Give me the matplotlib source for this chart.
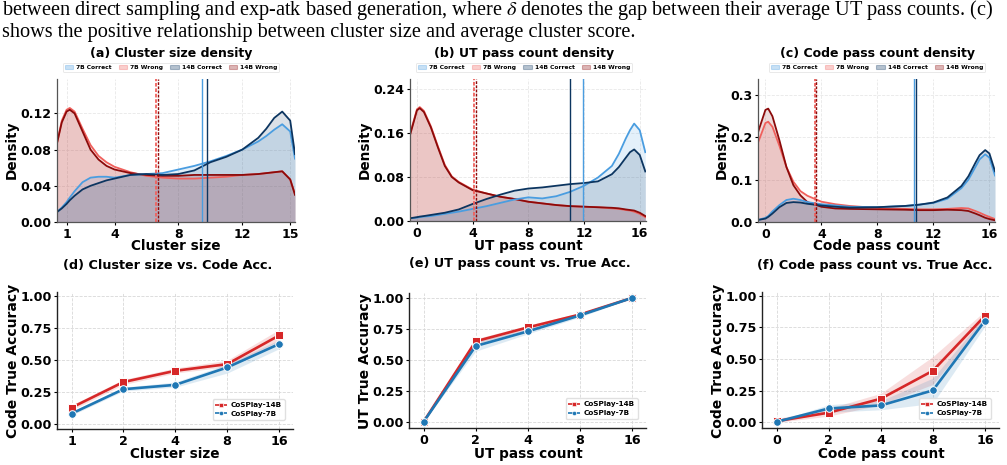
import matplotlib.pyplot as plt
from matplotlib.patches import Patch
from matplotlib.lines import Line2D

plt.rcParams['font.family'] = ['DejaVu Sans']
plt.rcParams['mathtext.fontset'] = 'stix'

W, H = 1007, 465

# ---------------- density panels ----------------
a_x = [0.4, 0.7, 1.0, 1.2, 1.5, 2.0, 2.5, 3.0, 3.5, 4.0, 5.0, 6.0, 7.0, 8.0, 9.0, 10.0,
       11.0, 12.0, 13.0, 13.5, 14.0, 14.5, 15.0, 15.3]
a_7b_wrong = [0.087, 0.112, 0.124, 0.126, 0.122, 0.103, 0.085, 0.073, 0.066, 0.061, 0.055, 0.051,
              0.049, 0.048, 0.048, 0.049, 0.050, 0.052, 0.053, 0.054, 0.055, 0.056, 0.047, 0.031]
a_14b_wrong = [0.087, 0.110, 0.122, 0.124, 0.120, 0.100, 0.080, 0.069, 0.062, 0.058, 0.054, 0.052,
               0.051, 0.051, 0.052, 0.052, 0.052, 0.052, 0.053, 0.054, 0.055, 0.056, 0.047, 0.030]
a_7b_correct = [0.011, 0.016, 0.022, 0.027, 0.034, 0.044, 0.049, 0.050, 0.050, 0.049, 0.052, 0.053,
                0.054, 0.058, 0.062, 0.067, 0.073, 0.080, 0.089, 0.095, 0.102, 0.108, 0.100, 0.070]
a_14b_correct = [0.011, 0.015, 0.020, 0.024, 0.029, 0.036, 0.040, 0.043, 0.046, 0.048, 0.052, 0.053,
                 0.052, 0.053, 0.057, 0.066, 0.072, 0.080, 0.093, 0.103, 0.115, 0.122, 0.112, 0.075]
a_means = [6.62, 6.72, 9.45, 9.76]  # 7B wrong, 14B wrong, 7B correct, 14B correct

b_x = [-0.5, 0.0, 0.2, 0.5, 1.0, 1.5, 2.0, 2.5, 3.0, 4.0, 5.0, 6.0, 7.0, 8.0, 9.0, 10.0,
       11.0, 12.0, 13.0, 14.0, 14.5, 15.0, 15.3, 15.6, 16.0, 16.4]
b_7b_wrong = [0.158, 0.203, 0.207, 0.200, 0.172, 0.136, 0.102, 0.081, 0.071, 0.057, 0.050, 0.044, 0.040,
              0.035, 0.032, 0.029, 0.027, 0.026, 0.025, 0.023, 0.022, 0.020, 0.019, 0.017, 0.013, 0.007]
b_14b_wrong = [0.156, 0.201, 0.205, 0.198, 0.170, 0.134, 0.100, 0.080, 0.070, 0.056, 0.050, 0.044, 0.040,
               0.035, 0.032, 0.029, 0.027, 0.026, 0.025, 0.024, 0.023, 0.021, 0.020, 0.019, 0.015, 0.009]
b_7b_correct = [0.005, 0.006, 0.007, 0.008, 0.009, 0.011, 0.013, 0.015, 0.017, 0.022, 0.027, 0.033, 0.039,
                0.043, 0.041, 0.045, 0.053, 0.064, 0.079, 0.100, 0.122, 0.150, 0.165, 0.177, 0.165, 0.125]
b_14b_correct = [0.005, 0.007, 0.008, 0.009, 0.011, 0.013, 0.015, 0.018, 0.021, 0.031, 0.040, 0.048, 0.055,
                 0.059, 0.061, 0.064, 0.067, 0.069, 0.072, 0.085, 0.098, 0.115, 0.125, 0.130, 0.120, 0.090]
b_means = [4.12, 4.25, 11.95, 11.0]

c_x = [-0.5, 0.0, 0.2, 0.5, 1.0, 1.5, 2.0, 2.5, 3.0, 4.0, 5.0, 6.0, 8.0, 10.0, 11.0, 12.0,
       13.0, 14.0, 14.5, 15.0, 15.3, 15.7, 16.0, 16.4]
c_7b_wrong = [0.190, 0.234, 0.237, 0.225, 0.180, 0.130, 0.095, 0.073, 0.062, 0.048, 0.042, 0.038,
              0.033, 0.031, 0.030, 0.030, 0.031, 0.033, 0.032, 0.026, 0.022, 0.016, 0.012, 0.007]
c_14b_wrong = [0.215, 0.265, 0.268, 0.250, 0.193, 0.130, 0.087, 0.063, 0.047, 0.036, 0.032, 0.031,
               0.030, 0.029, 0.028, 0.028, 0.029, 0.028, 0.026, 0.020, 0.016, 0.010, 0.007, 0.004]
c_7b_correct = [0.005, 0.010, 0.014, 0.025, 0.040, 0.052, 0.055, 0.052, 0.047, 0.042, 0.039, 0.036,
                0.035, 0.038, 0.041, 0.045, 0.055, 0.080, 0.100, 0.130, 0.148, 0.160, 0.152, 0.110]
c_14b_correct = [0.005, 0.008, 0.012, 0.020, 0.035, 0.045, 0.047, 0.046, 0.043, 0.039, 0.036, 0.034,
                 0.035, 0.038, 0.041, 0.046, 0.058, 0.085, 0.108, 0.140, 0.158, 0.170, 0.162, 0.120]
c_means = [3.52, 3.58, 10.6, 10.75]

# ---------------- accuracy panels ----------------
d_ticks = ['1', '2', '4', '8', '16']
d_14b = [0.13, 0.33, 0.418, 0.47, 0.694]
d_14b_lo = [0.11, 0.31, 0.40, 0.45, 0.65]
d_14b_hi = [0.15, 0.35, 0.44, 0.50, 0.74]
d_7b = [0.083, 0.274, 0.308, 0.444, 0.627]
d_7b_lo = [0.07, 0.26, 0.29, 0.40, 0.59]
d_7b_hi = [0.10, 0.29, 0.33, 0.47, 0.66]

e_ticks = ['0', '2', '4', '8', '16']
e_14b = [0.0, 0.65, 0.762, 0.866, 1.0]
e_14b_lo = [0.0, 0.63, 0.745, 0.855, 1.0]
e_14b_hi = [0.0, 0.67, 0.78, 0.88, 1.0]
e_7b = [0.0, 0.612, 0.73, 0.859, 1.0]
e_7b_lo = [0.0, 0.57, 0.71, 0.845, 1.0]
e_7b_hi = [0.0, 0.65, 0.75, 0.875, 1.0]

f_ticks = ['0', '2', '4', '8', '16']
f_14b = [0.01, 0.077, 0.187, 0.408, 0.842]
f_14b_lo = [0.0, 0.05, 0.14, 0.30, 0.80]
f_14b_hi = [0.03, 0.11, 0.23, 0.52, 0.88]
f_7b = [0.005, 0.11, 0.134, 0.253, 0.803]
f_7b_lo = [0.0, 0.08, 0.10, 0.15, 0.76]
f_7b_hi = [0.01, 0.14, 0.17, 0.35, 0.84]

C7W, C14W, C7C, C14C = '#f0605c', '#8b0a0a', '#4a9de0', '#0c3560'
RED, BLUE = '#d62728', '#1f77b4'


def box(l, r, t, b):
    return [l / W, 1 - b / H, (r - l) / W, (b - t) / H]


def ftext(x, y, s, ha='center', **kw):
    return fig.text(x / W, 1 - y / H, s, ha=ha, va='center', **kw)


def bold_ticks(ax, size):
    ax.tick_params(labelsize=size, length=2.5, width=0.8, pad=1.5)
    for t in ax.get_xticklabels() + ax.get_yticklabels():
        t.set_fontweight('bold')


fig = plt.figure(figsize=(W / 100, H / 100), dpi=100)

ftext(2, 10, 'between direct sampling and exp-atk based generation, where $\\delta$ denotes the gap '
      'between their average UT pass counts. (c)', family='Liberation Serif',
      fontsize=14.6, ha='left')
ftext(2, 32, 'shows the positive relationship between cluster size and average cluster score.',
      family='Liberation Serif', fontsize=14.6, ha='left')


def density(rect, xs, w7, w14, c7, c14, means, xlim, ylim, xticks, yticks, yfmt, title, tpos, xlab, xlpos, ylpos):
    ax = fig.add_axes(box(*rect))
    for ys, col in [(w7, C7W), (w14, C14W), (c7, C7C), (c14, C14C)]:
        ax.fill_between(xs, 0, ys, color=col, alpha=0.15, lw=0)
    for ys, col in [(w7, C7W), (w14, C14W), (c7, C7C), (c14, C14C)]:
        ax.plot(xs, ys, color=col, lw=1.3)
    ax.axvline(means[0], color=C7W, lw=1.3, ls=(0, (2, 1)))
    ax.axvline(means[1], color=C14W, lw=1.0, ls=(0, (2, 1)))
    ax.axvline(means[2], color=C7C, lw=1.0)
    ax.axvline(means[3], color=C14C, lw=1.0)
    ax.set_xlim(*xlim)
    ax.set_ylim(*ylim)
    ax.set_xticks(xticks)
    ax.set_yticks(yticks)
    ax.set_yticklabels([yfmt % v for v in yticks])
    bold_ticks(ax, 9)
    ax.grid(color='#e8e8e8', lw=0.6, ls='--')
    ax.set_axisbelow(True)
    for s in ['top', 'right']:
        ax.spines[s].set_visible(False)
    for s in ['left', 'bottom']:
        ax.spines[s].set_color('#555555')
        ax.spines[s].set_linewidth(0.9)
    ftext(tpos[0], tpos[1], title, fontsize=9, weight='bold')
    handles = [Patch(facecolor=c, edgecolor=c, alpha=0.3, lw=0.8) for c in [C7C, C7W, C14C, C14W]]
    leg = fig.legend(handles, ['7B Correct', '7B Wrong', '14B Correct', '14B Wrong'], ncol=4,
                     loc='center', bbox_to_anchor=(tpos[0] / W, 1 - 67.5 / H),
                     prop={'size': 4.3, 'weight': 'bold'},
                     frameon=True, handlelength=1.4, handleheight=0.7, columnspacing=1.2,
                     handletextpad=0.5, borderpad=0.3, fancybox=True, framealpha=0.9,
                     edgecolor='#dddddd')
    leg.get_frame().set_linewidth(0.5)
    ftext(xlpos[0], xlpos[1], xlab, fontsize=9.8, weight='bold')
    ftext(ylpos[0], ylpos[1], 'Density', fontsize=9.8, weight='bold', rotation=90)
    return ax


density((57, 295, 79, 222), a_x, a_7b_wrong, a_14b_wrong, a_7b_correct, a_14b_correct, a_means,
        (0.4, 15.3), (0, 0.158), [1, 4, 8, 12, 15], [0.0, 0.04, 0.08, 0.12], '%.2f',
        '(a) Cluster size density', (171, 53), 'Cluster size', (176, 246), (12, 150))
density((410, 646, 79, 221), b_x, b_7b_wrong, b_14b_wrong, b_7b_correct, b_14b_correct, b_means,
        (-0.5, 16.45), (0, 0.258), [0, 4, 8, 12, 16], [0.0, 0.08, 0.16, 0.24], '%.2f',
        '(b) UT pass count density', (524, 53), 'UT pass count', (528, 246), (365, 150))
density((758, 995, 79, 222), c_x, c_7b_wrong, c_14b_wrong, c_7b_correct, c_14b_correct, c_means,
        (-0.53, 16.4), (0, 0.338), [0, 4, 8, 12, 16], [0.0, 0.1, 0.2, 0.3], '%.1f',
        '(c) Code pass count density', (877, 53), 'Code pass count', (876, 246), (722, 150))


def accuracy(rect, ticks, r, rlo, rhi, b, blo, bhi, title, tpos, xlab, xlpos, ylab, ylpos, ylim):
    ax = fig.add_axes(box(*rect))
    pos = list(range(len(ticks)))
    ax.fill_between(pos, rlo, rhi, color=RED, alpha=0.15, lw=0)
    ax.fill_between(pos, blo, bhi, color=BLUE, alpha=0.15, lw=0)
    ax.plot(pos, r, color=RED, lw=1.9, marker='s', ms=5.5, mec='white', mew=0.7)
    ax.plot(pos, b, color=BLUE, lw=1.9, marker='o', ms=5.5, mec='white', mew=0.7)
    ax.set_xlim(-0.28, 4.27)
    ax.set_ylim(*ylim)
    ax.set_xticks(pos)
    ax.set_xticklabels(ticks)
    ax.set_yticks([0.0, 0.25, 0.5, 0.75, 1.0])
    ax.set_yticklabels(['0.00', '0.25', '0.50', '0.75', '1.00'])
    bold_ticks(ax, 9.2)
    ax.grid(color='#d8d8d8', lw=0.6, ls='--')
    ax.set_axisbelow(True)
    for s in ['top', 'right']:
        ax.spines[s].set_visible(False)
    for s in ['left', 'bottom']:
        ax.spines[s].set_color('#222222')
        ax.spines[s].set_linewidth(1.0)
    handles = [Line2D([], [], color=RED, ls='--', lw=1.2, marker='s', ms=3, mec='white', mew=0.4),
               Line2D([], [], color=BLUE, ls='--', lw=1.2, marker='o', ms=3, mec='white', mew=0.4)]
    ax.legend(handles, ['CoSPlay-14B', 'CoSPlay-7B'], loc='lower right',
              prop={'size': 5.2, 'weight': 'bold'},
              handlelength=1.6, handletextpad=0.5, borderpad=0.4, labelspacing=0.4,
              bbox_to_anchor=(0.98, 0.04), framealpha=0.9, edgecolor='#dddddd')
    ftext(tpos[0], tpos[1], title, fontsize=9.2, weight='bold')
    ftext(xlpos[0], xlpos[1], xlab, fontsize=9.8, weight='bold')
    ftext(ylpos[0], ylpos[1], ylab, fontsize=10, weight='bold', rotation=90)
    return ax


accuracy((57, 293, 292, 429), d_ticks, d_14b, d_14b_lo, d_14b_hi, d_7b, d_7b_lo, d_7b_hi,
         '(d) Cluster size vs. Code Acc.', (168, 266), 'Cluster size', (175, 454),
         'Code True Accuracy', (13, 361), (-0.037, 1.034))
accuracy((409, 646, 293, 428), e_ticks, e_14b, e_14b_lo, e_14b_hi, e_7b, e_7b_lo, e_7b_hi,
         '(e) UT pass count vs. True Acc.', (520, 263), 'UT pass count', (528, 454),
         'UT True Accuracy', (365, 361), (-0.05, 1.04))
accuracy((762, 999, 292, 428), f_ticks, f_14b, f_14b_lo, f_14b_hi, f_7b, f_7b_lo, f_7b_hi,
         '(f) Code pass count vs. True Acc.', (875, 265), 'Code pass count', (881, 454),
         'Code True Accuracy', (718, 361), (-0.044, 1.03))

fig.savefig('out.png', dpi=100)
